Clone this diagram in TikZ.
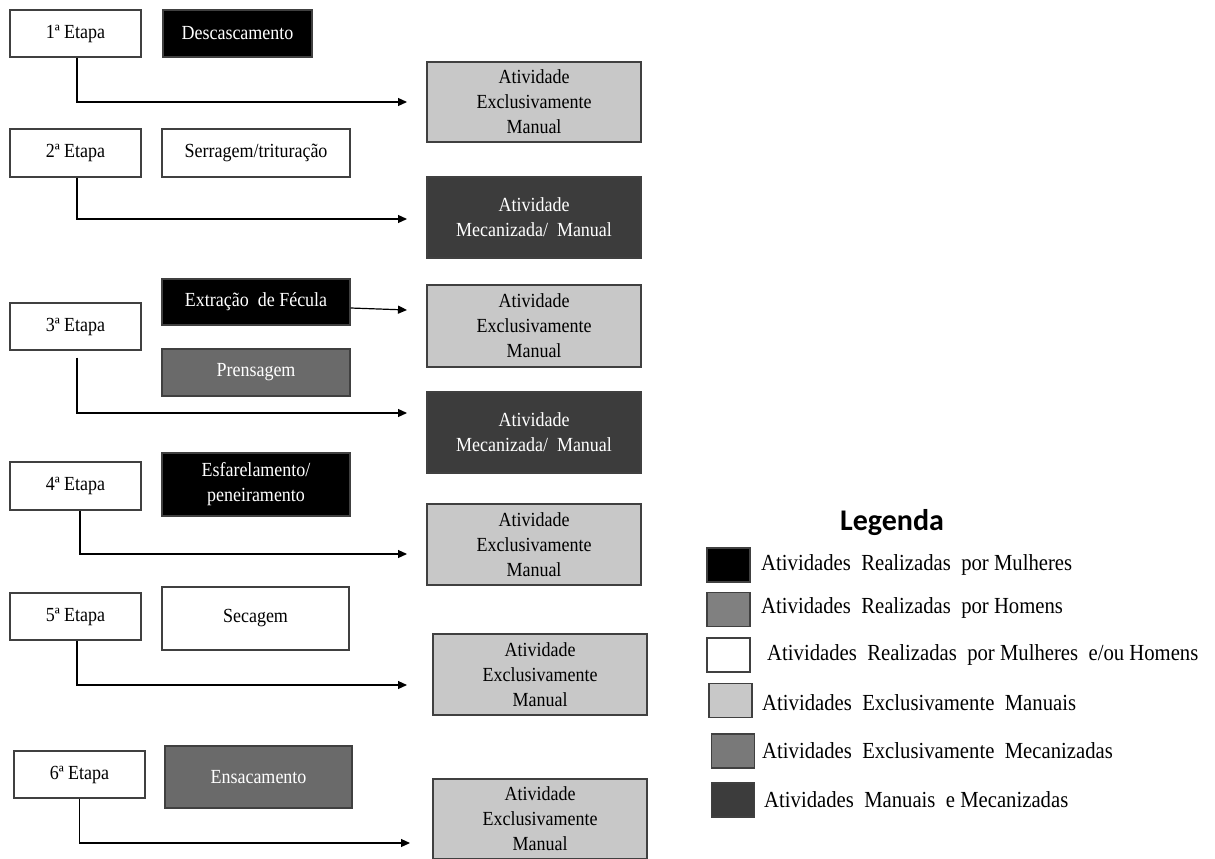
\documentclass[tikz,border=0pt]{standalone}
\usepackage{fontspec}
\setmainfont{Liberation Serif}[FakeStretch=0.9]
\newfontfamily\calfont{Carlito}
\usetikzlibrary{arrows.meta,calc}
\definecolor{lgray}{HTML}{C8C8C8}
\definecolor{mgray}{HTML}{6A6A6A}
\definecolor{dgray}{HTML}{3C3C3C}
\definecolor{bord}{HTML}{404040}
\begin{document}
\begin{tikzpicture}[x=1pt,y=-1pt,
  box/.style={draw=bord,line width=1.2pt,inner sep=0pt,align=center,font=\fontsize{20}{25}\selectfont},
  etapa/.style={box,fill=white,text=black,minimum width=131,minimum height=47},
  womenbox/.style={box,fill=black,text=white},
  menbox/.style={box,fill=mgray,text=white},
  bothbox/.style={box,fill=white,text=black},
  manbox/.style={box,fill=lgray,text=black,minimum width=214,minimum height=81},
  mixbox/.style={box,fill=dgray,text=white,minimum width=214,minimum height=81},
  swatch/.style={draw=bord,line width=1.2pt,minimum width=43,minimum height=34,inner sep=0pt},
  legtext/.style={anchor=west,inner sep=0pt,font=\fontsize{23}{26}\selectfont},
  arr/.style={line width=1.2pt,-{Triangle[length=9pt,width=8pt]}}
]
\path[use as bounding box,fill=white] (0,0) rectangle (1215,859);

% Stage 1
\node[etapa] (e1) at (75.5,33.5) {1ª Etapa};
\node[womenbox,minimum width=149,minimum height=47] (d1) at (237.5,33.5) {Descascamento};
\node[manbox,minimum height=80] (a1) at (534,102) {Atividade\\Exclusivamente\\Manual};
\coordinate (t1) at (407,102);
\draw[arr] ([xshift=1.5]e1.south) |- (t1);

% Stage 2
\node[etapa,minimum height=48] (e2) at (75.5,153) {2ª Etapa};
\node[bothbox,minimum width=188,minimum height=48] (s2) at (256,153) {Serragem/trituração};
\node[mixbox] (m1) at (534,217.5) {Atividade\\Mecanizada/\ \ Manual};
\coordinate (t2) at (407,219);
\draw[arr] ([xshift=1.5]e2.south) |- (t2);

% Stage 3
\node[womenbox,minimum width=188,minimum height=46] (x3) at (256,302) {Extração\ \ de Fécula};
\node[manbox,minimum height=82] (a2) at (534,326) {Atividade\\Exclusivamente\\Manual};
\node[etapa] (e3) at (75.5,326.5) {3ª Etapa};
\node[menbox,minimum width=188,minimum height=47] (p3) at (256,372.5) {Prensagem};
\node[mixbox] (m2) at (534,432.5) {Atividade\\Mecanizada/\ \ Manual};
\coordinate (t3a) at (407,310);
\coordinate (t3) at (407,413);
\draw[arr] ($(x3.east)+(0,6)$) -- (t3a);
\draw[arr] ($(e3.south)+(1.5,7)$) |- (t3);

% Stage 4
\node[etapa,minimum height=48] (e4) at (75.5,486) {4ª Etapa};
\node[womenbox,minimum width=188,minimum height=63] (f4) at (256,484.5) {Esfarelamento/\\peneiramento};
\node[manbox] (a3) at (534,544.5) {Atividade\\Exclusivamente\\Manual};
\coordinate (t4) at (407,554);
\draw[arr] ([xshift=4.5]e4.south) |- (t4);

% Stage 5
\node[etapa] (e5) at (75.5,616.5) {5ª Etapa};
\node[bothbox,minimum width=187,minimum height=63] (s5) at (255.5,618.5) {Secagem};
\node[manbox] (a4) at (540,674.5) {Atividade\\Exclusivamente\\Manual};
\coordinate (t5) at (407,685);
\draw[arr] ([xshift=1.5]e5.south) |- (t5);

% Stage 6
\node[etapa] (e6) at (79.5,774.5) {6ª Etapa};
\node[menbox,minimum width=187,minimum height=62] (n6) at (258.5,777) {Ensacamento};
\node[manbox,minimum height=80] (a5) at (540,819) {Atividade\\Exclusivamente\\Manual};
\coordinate (t6) at (410,843);
\draw[arr] (e6.south) |- (t6);

% Legend
\node[font=\calfont\bfseries\fontsize{30}{32}\selectfont,inner sep=0pt] (lt) at (892,523) {Legenda};
\node[swatch,fill=black] (l1) at (728.5,565) {};
\node[legtext] (l1t) at (761,565) {Atividades\ \ Realizadas\ \ por Mulheres};
\node[swatch,fill=mgray!85!white] (l2) at (728.5,609.5) {};
\node[legtext] (l2t) at (761,608) {Atividades\ \ Realizadas\ \ por Homens};
\node[swatch,fill=white] (l3) at (728.5,655) {};
\node[legtext] (l3t) at (767,655) {Atividades\ \ Realizadas\ \ por Mulheres\ \ e/ou Homens};
\node[swatch,fill=lgray] (l4) at (730.5,700.5) {};
\node[legtext] (l4t) at (762,703) {Atividades\ \ Exclusivamente\ \ Manuais};
\node[swatch,fill=mgray!90!white] (l5) at (733,751) {};
\node[legtext] (l5t) at (762,751) {Atividades\ \ Exclusivamente\ \ Mecanizadas};
\node[swatch,fill=dgray] (l6) at (733,800) {};
\node[legtext] (l6t) at (764,800) {Atividades\ \ Manuais\ \ e Mecanizadas};
\end{tikzpicture}
\end{document}
